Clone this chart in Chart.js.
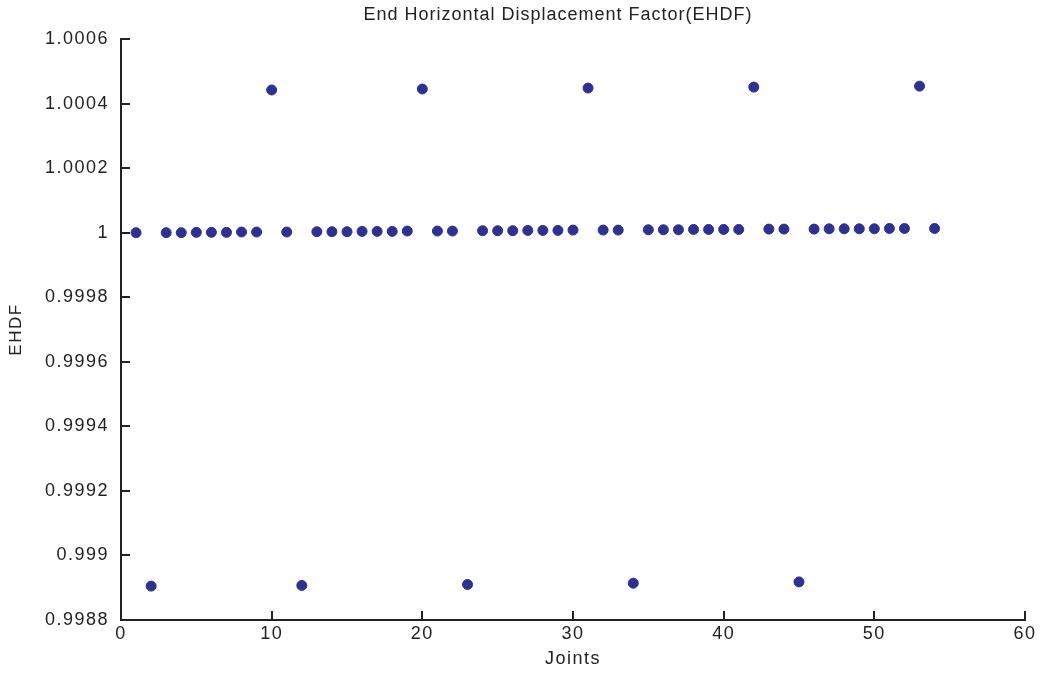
<!DOCTYPE html>
<html>
<head>
<meta charset="utf-8">
<script src="https://cdn.jsdelivr.net/npm/chart.js@4"></script>
<style>
  html, body { margin: 0; padding: 0; background: #fff; }
  #wrap { width: 1042px; height: 674px; position: relative; }
</style>
</head>
<body>
<div id="wrap"><canvas id="ehdf-chart"></canvas></div>
<script>
// Joint numbers along the member
var joints = [
	1, 2, 3, 4, 5, 6, 7, 8, 9, 10,
	11, 12, 13, 14, 15, 16, 17, 18, 19, 20,
	21, 22, 23, 24, 25, 26, 27, 28, 29, 30,
	31, 32, 33, 34, 35, 36, 37, 38, 39, 40,
	41, 42, 43, 44, 45, 46, 47, 48, 49, 50,
	51, 52, 53, 54
];

// End horizontal displacement factor
var ehdf = [
	1.000000, 0.998905, 1.000000, 1.000000, 1.000001, 1.000001, 1.000001, 1.000002, 1.000002, 1.000442,
	1.000002, 0.998907, 1.000003, 1.000003, 1.000003, 1.000004, 1.000004, 1.000004, 1.000005, 1.000445,
	1.000005, 1.000005, 0.998910, 1.000006, 1.000006, 1.000006, 1.000007, 1.000007, 1.000007, 1.000008,
	1.000448, 1.000008, 1.000008, 0.998914, 1.000009, 1.000009, 1.000009, 1.000010, 1.000010, 1.000010,
	1.000010, 1.000451, 1.000011, 1.000011, 0.998918, 1.000011, 1.000012, 1.000012, 1.000012, 1.000012,
	1.000013, 1.000013, 1.000454, 1.000013
];

var xTicks = [0, 10, 20, 30, 40, 50, 60];
var yTicks = [0.9988, 0.999, 0.9992, 0.9994, 0.9996, 0.9998, 1, 1.0002, 1.0004, 1.0006];

var chartTitle = 'End Horizontal Displacement Factor(EHDF)';
var xTitle = 'Joints';
var yTitle = 'EHDF';

var points = joints.map(function(j, i) { return { x: j, y: ehdf[i] }; });

var FONT = '"Liberation Sans", Arial, sans-serif';

// The source plot uses loosely spaced text; widen it a little
var spacing = {
	id: 'spacing',
	beforeLayout: function(chart) { chart.ctx.letterSpacing = '1.5px'; },
	beforeDraw: function(chart) { chart.ctx.letterSpacing = '1.5px'; }
};

// Inward tick marks and the title, drawn after the chart
var axisExtras = {
	id: 'axisExtras',
	afterDraw: function(chart) {
		var ctx = chart.ctx;
		var area = chart.chartArea;
		var xs = chart.scales.x;
		var ys = chart.scales.y;
		ctx.save();
		ctx.strokeStyle = '#222';
		ctx.lineWidth = 2;
		ctx.beginPath();
		xTicks.forEach(function(v) {
			var px = Math.round(xs.getPixelForValue(v));
			ctx.moveTo(px, area.bottom);
			ctx.lineTo(px, area.bottom - 9);
		});
		yTicks.forEach(function(v) {
			var py = Math.round(ys.getPixelForValue(v));
			ctx.moveTo(area.left, py);
			ctx.lineTo(area.left + 9, py);
		});
		ctx.stroke();

		ctx.fillStyle = '#222';
		ctx.letterSpacing = '1px';
		ctx.font = '18px ' + FONT;
		ctx.textAlign = 'center';
		ctx.textBaseline = 'middle';
		ctx.fillText(chartTitle, 558, 15);
		ctx.restore();
	}
};

new Chart(document.getElementById('ehdf-chart').getContext('2d'), {
	type: 'scatter',
	data: {
		datasets: [{
			label: yTitle,
			data: points,
			backgroundColor: '#2e3192',
			borderColor: '#2e3192',
			pointRadius: 5,
			pointHoverRadius: 5
		}]
	},
	options: {
		responsive: true,
		maintainAspectRatio: false,
		animation: false,
		layout: {
			padding: { top: 39, right: 17, bottom: 0, left: 0 }
		},
		plugins: {
			legend: { display: false },
			title: { display: false },
			tooltip: { enabled: false }
		},
		scales: {
			x: {
				type: 'linear',
				min: 0,
				max: 60,
				afterFit: function(scale) { scale.height = 54; },
				afterBuildTicks: function(scale) {
					scale.ticks = xTicks.map(function(v) { return { value: v }; });
				},
				grid: { display: false, drawTicks: false },
				border: { display: true, color: '#222', width: 2 },
				ticks: {
					padding: 3,
					color: '#222',
					font: { family: FONT, size: 18 }
				},
				title: {
					display: true,
					text: xTitle,
					color: '#222',
					padding: { top: 0, bottom: 4 },
					font: { family: FONT, size: 18 }
				}
			},
			y: {
				type: 'linear',
				min: 0.9988,
				max: 1.0006,
				afterFit: function(scale) { scale.width = 121; },
				afterBuildTicks: function(scale) {
					scale.ticks = yTicks.map(function(v) { return { value: v }; });
				},
				grid: { display: false, drawTicks: false },
				border: { display: true, color: '#222', width: 2 },
				ticks: {
					padding: 12,
					color: '#222',
					font: { family: FONT, size: 18 },
					callback: function(value) {
						return String(parseFloat(Number(value).toFixed(4)));
					}
				},
				title: {
					display: true,
					text: yTitle,
					color: '#222',
					padding: { top: 6, bottom: 0 },
					font: { family: FONT, size: 17 }
				}
			}
		}
	},
	plugins: [spacing, axisExtras]
});
</script>
</body>
</html>
